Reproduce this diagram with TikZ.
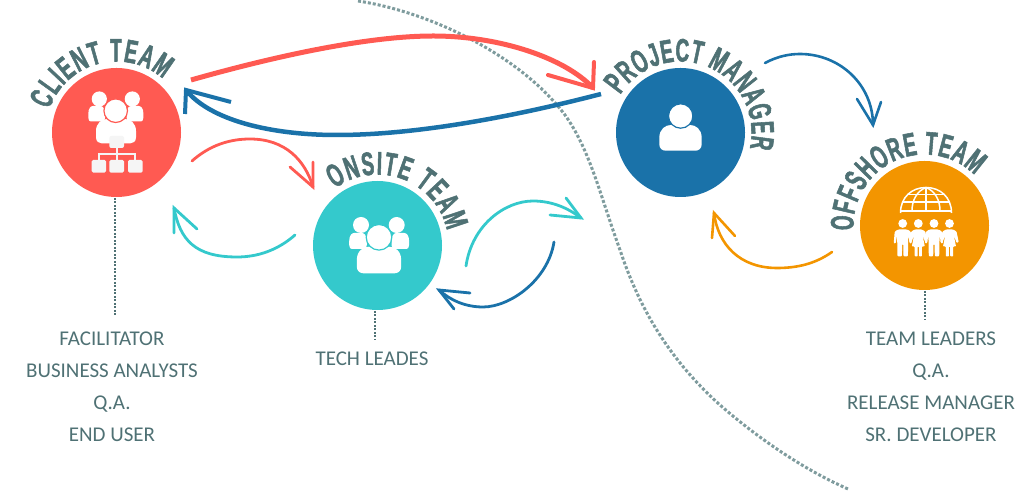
\documentclass[tikz,border=0pt]{standalone}
\usepackage{fontspec}
\setmainfont{Carlito}
\newfontface\arcfont{Liberation Sans Bold}[FakeStretch=0.58,FakeBold=1.6]
\usetikzlibrary{decorations.text,calc}
\definecolor{cred}{HTML}{FF5A52}
\definecolor{cteal}{HTML}{34C9CC}
\definecolor{cblue}{HTML}{1A72A9}
\definecolor{corange}{HTML}{F39500}
\definecolor{cslate}{HTML}{4F7174}
\definecolor{cdots}{HTML}{7F9C9E}
\definecolor{cpale}{HTML}{F5F5F5}
\tikzset{
  flip/.style={yshift=492pt,y=-1pt},
  team/.style={circle,minimum size=129pt,inner sep=0pt,fill=#1},
  arctext/.style={decorate,decoration={text along path,text align={fit to path},
      text={|\arcfont\fontsize{32.5}{32.5}\selectfont\color{cslate}|#1}}},
  conn/.style={line cap=round,line join=miter,line width=#1},
  dotstub/.style={draw=cslate,line width=2pt,dash pattern=on 2pt off 1.5pt},
  dotwave/.style={draw=cdots,line width=3pt,dash pattern=on 3pt off 2pt},
  lbl/.style={anchor=base,text=cslate,font=\fontsize{21}{21}\selectfont,inner sep=0pt},
}
\newcommand{\bodyshape}[5]{%
  \fill[#5,shift={(#1,#3)},x=#2pt,y=-#4pt]
   (-1,.75) -- (-1,.5) .. controls (-1,.15) and (-.7,0) .. (-.45,0) -- (.45,0)
   .. controls (.7,0) and (1,.15) .. (1,.5) -- (1,.75)
   .. controls (1,.92) and (.85,1) .. (.7,1) -- (-.7,1)
   .. controls (-.85,1) and (-1,.92) .. (-1,.75) -- cycle;}
\newcommand{\maleicon}[1]{%
  \fill[white,shift={(#1,0)}] (0,223.5) circle (4.4pt);
  \fill[white,shift={(#1,0)},rounded corners=1pt] (-4.5,229.5) -- (4.5,229.5) -- (8,231.5) -- (9,243.5) -- (7,243.5) -- (5.6,235)
    -- (5.2,256.5) -- (.8,256.5) -- (.6,244) -- (-.6,244) -- (-.8,256.5) -- (-5.2,256.5) -- (-5.6,235) -- (-7,243.5) -- (-9,243.5) -- (-8,231.5) -- cycle;}
\newcommand{\femaleicon}[1]{%
  \fill[white,shift={(#1,0)}] (0,223.5) circle (4.4pt);
  \fill[white,shift={(#1,0)},rounded corners=.8pt] (-3.5,229.5) -- (3.5,229.5) -- (7,231.5) -- (9.2,242) -- (7.2,243) -- (4.2,235)
    -- (6.5,246.5) -- (3.6,246.5) -- (3.6,256.5) -- (.7,256.5) -- (.7,246.5) -- (-.7,246.5) -- (-.7,256.5) -- (-3.6,256.5) -- (-3.6,246.5) -- (-6.5,246.5)
    -- (-4.2,235) -- (-7.2,243) -- (-9.2,242) -- (-7,231.5) -- cycle;}
\begin{document}
\begin{tikzpicture}[x=1pt,y=1pt]
\useasboundingbox (0,0) rectangle (1028,492);
\node[team=cred]    (client)   at (116.5,359.5) {};
\node[team=cteal]   (onsite)   at (377.5,246.5) {};
\node[team=cblue]   (pm)       at (680.5,359.5) {};
\node[team=corange] (offshore) at (924.5,266.5) {};
\path[arctext={CLIENT TEAM}] ($(client)+(161:71)$) arc[start angle=161,end angle=49,radius=71pt];
\path[arctext={ONSITE TEAM}] ($(onsite)+(127:71)$) arc[start angle=127,end angle=12,radius=71pt];
\path[arctext={PROJECT MANAGER}] ($(pm)+(148:71)$) arc[start angle=148,end angle=-13,radius=71pt];
\path[arctext={OFFSHORE TEAM}] ($(offshore)+(184:71)$) arc[start angle=184,end angle=45,radius=71pt];
\begin{scope}[flip]
\coordinate (w0) at (358,1);
\coordinate (w1) at (848,489);
\draw[dotwave] (w0) .. controls (430,12) and (520,55) .. (565,115) .. controls (590,150) and (600,195) .. (620,250) .. controls (640,310) and (670,360) .. (720,405) .. controls (760,440) and (805,470) .. (w1);
\coordinate (cs) at (114.5,316);
\coordinate (os) at (375,340);
\coordinate (fs) at (924.5,320);
\draw[dotstub] (114.5,198) -- (cs);
\draw[dotstub] (375,311) -- (os);
\draw[dotstub] (924.5,291) -- (fs);
\node[lbl] (l1) at (112,346) {FACILITATOR};
\node[lbl] (l2) at (112,378) {BUSINESS ANALYSTS};
\node[lbl] (l3) at (112,410) {Q.A.};
\node[lbl] (l4) at (112,442) {END USER};
\node[lbl] (l5) at (372,366) {TECH LEADES};
\node[lbl] (l6) at (931,346) {TEAM LEADERS};
\node[lbl] (l7) at (931,378) {Q.A.};
\node[lbl] (l8) at (931,410) {RELEASE MANAGER};
\node[lbl] (l9) at (931,442) {SR. DEVELOPER};
\coordinate (r1s) at (191,80); \coordinate (r1t) at (593,88);
\draw[conn=5pt,cred,line cap=butt] (r1s) .. controls (290,52) and (375,36) .. (433,36) .. controls (500,36) and (565,58) .. (r1t);
\draw[conn=4pt,cred] (548,75) -- (r1t) -- (594,62);
\coordinate (b1s) at (601,94); \coordinate (b1t) at (186,90);
\draw[conn=4.5pt,cblue,line cap=butt] (b1s) .. controls (520,115) and (420,135) .. (337,135) .. controls (270,135) and (210,120) .. (b1t);
\draw[conn=4pt,cblue,line cap=butt] (231,102) -- (b1t) -- (185,114);
\coordinate (r2s) at (192,161); \coordinate (r2t) at (313,187);
\draw[conn=2.8pt,cred] (r2s) .. controls (210,145) and (230,139) .. (250,139) .. controls (285,139) and (305,160) .. (r2t);
\draw[conn=2.8pt,cred] (290,167) -- (r2t) -- (313,162);
\coordinate (t1s) at (295,235); \coordinate (t1t) at (174,208);
\draw[conn=2.8pt,cteal] (t1s) .. controls (278,250) and (258,257) .. (237,257) .. controls (195,257) and (180,240) .. (t1t);
\draw[conn=2.8pt,cteal] (197,229) -- (t1t) -- (174,233);
\coordinate (t2s) at (466,266); \coordinate (t2t) at (581,218);
\draw[conn=2.8pt,cteal] (t2s) .. controls (472,225) and (505,201) .. (533,201) .. controls (552,201) and (568,208) .. (t2t);
\draw[conn=2.8pt,cteal] (566,198) -- (t2t) -- (550,215);
\coordinate (b2s) at (554,242); \coordinate (b2t) at (439,290);
\draw[conn=2.8pt,cblue] (b2s) .. controls (548,280) and (510,307) .. (483,307) .. controls (465,307) and (450,300) .. (b2t);
\draw[conn=2.8pt,cblue] (470,293) -- (b2t) -- (454,309);
\coordinate (b3s) at (765,63); \coordinate (b3t) at (873,125);
\draw[conn=2.6pt,cblue] (b3s) .. controls (778,56) and (790,54) .. (800,54) .. controls (840,54) and (873,85) .. (b3t);
\draw[conn=2.6pt,cblue] (857,99) -- (b3t) -- (881,102);
\coordinate (o1s) at (832,252); \coordinate (o1t) at (714,213);
\draw[conn=2.6pt,corange] (o1s) .. controls (815,264) and (797,268) .. (777,268) .. controls (740,268) and (718,245) .. (o1t);
\draw[conn=2.6pt,corange] (735,236) -- (o1t) -- (712,238);
% client icon
\fill[white] (99.3,99) circle (7.6pt) (132.3,99) circle (7.6pt);
\bodyshape{96.7}{8.4}{106}{15.5}{white}
\bodyshape{135}{8.4}{106}{15.5}{white}
\bodyshape{116}{20}{119}{24.5}{white}
\fill[white,draw=cred,line width=1.2pt] (115.7,110.7) circle (11.8pt);
\fill[cpale,rounded corners=2pt] (109.3,136) rectangle (124,148);
\draw[cpale,line width=2pt] (116.7,148) -- (116.7,160) (99,160) -- (99,154) -- (135,154) -- (135,160);
\fill[cpale,rounded corners=1.5pt] (91.7,160) rectangle (106,172.7) (109.3,160) rectangle (124,172.7) (128,160) rectangle (142.7,172.7);
% onsite icon
\fill[white] (361,225) circle (8pt) (396.7,225) circle (8pt);
\bodyshape{358}{8.8}{233}{16}{white}
\bodyshape{400.3}{8.8}{233}{16}{white}
\bodyshape{379}{22.2}{246.7}{26.6}{white}
\fill[white,draw=cteal,line width=1.2pt] (379,237.3) circle (12.8pt);
% pm icon
\bodyshape{680.5}{21.2}{125}{25.7}{white}
\fill[white,draw=cblue,line width=1.2pt] (680.7,116) circle (12.2pt);
% offshore icon
\begin{scope}[white,line width=1.5pt]
\draw (900.5,213) .. controls (900.5,197) and (912,187.5) .. (926,187.5) .. controls (940,187.5) and (951.5,197) .. (951.5,213);
\draw (912,211) .. controls (912,200) and (917,191) .. (926,187.5) .. controls (935,191) and (940,200) .. (940,211);
\draw (926,187.5) -- (926,211);
\draw (907,194.5) -- (945,194.5);
\draw (902,202) -- (950,202);
\draw (900.5,211) -- (951.5,211);
\end{scope}
\maleicon{902.7}
\femaleicon{918.3}
\maleicon{934}
\femaleicon{949.5}
\end{scope}
\end{tikzpicture}
\end{document}
